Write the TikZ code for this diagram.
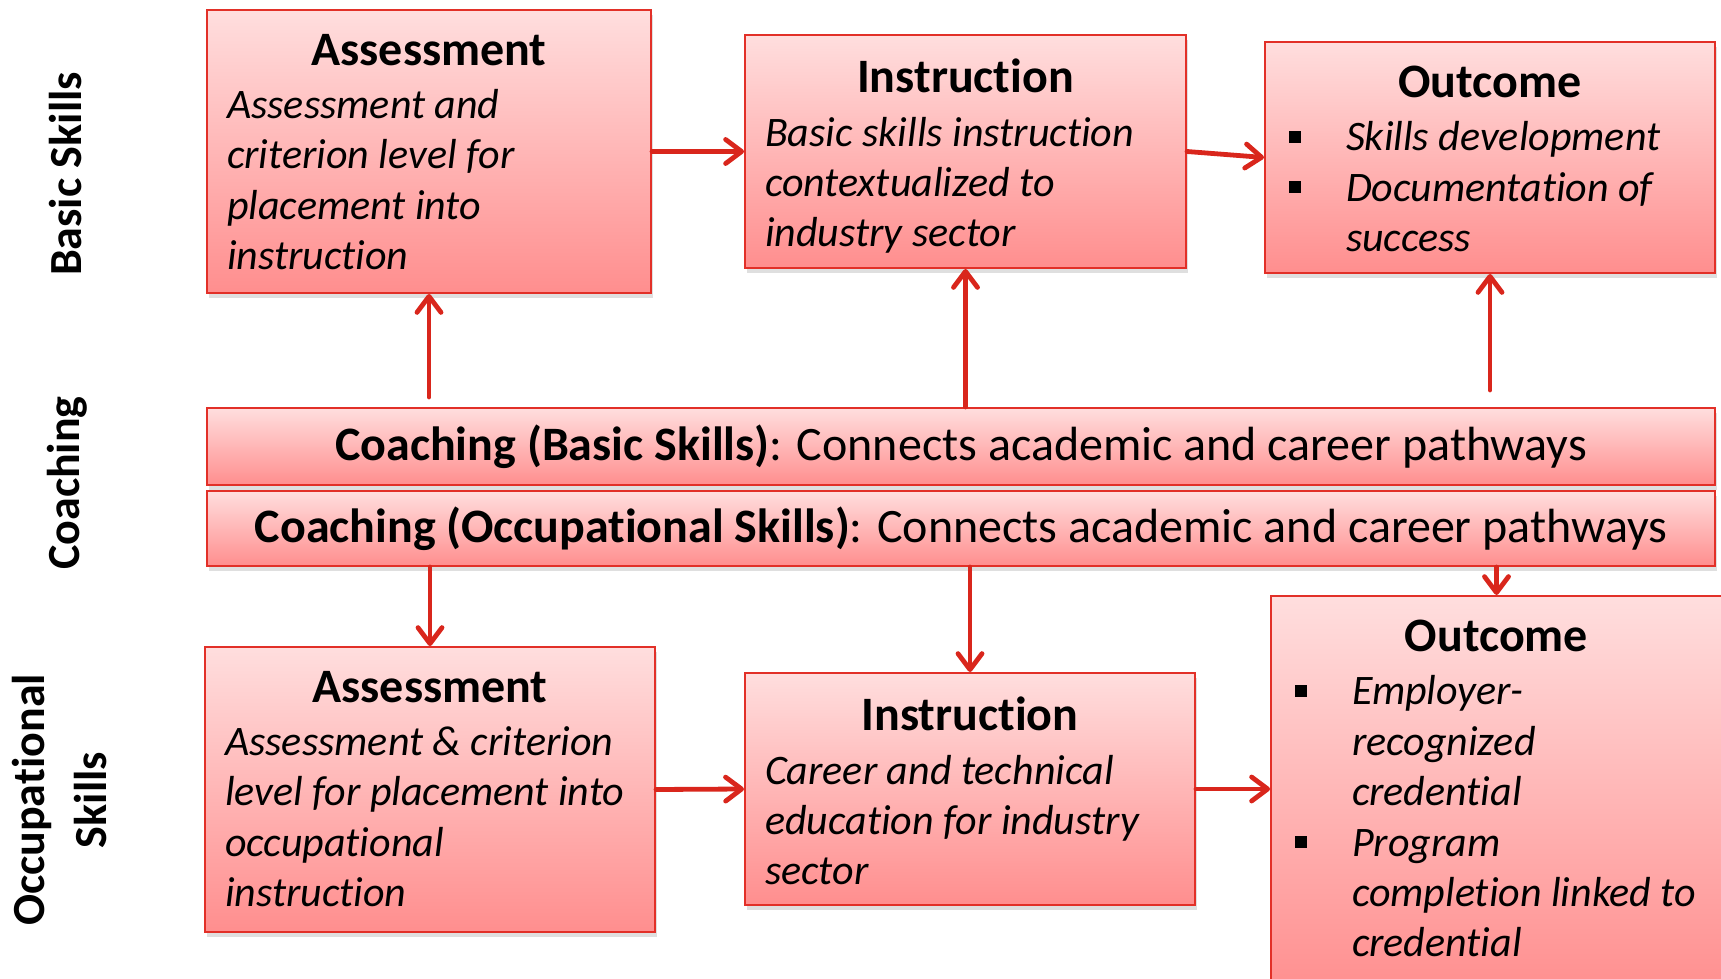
\documentclass[tikz,border=0pt]{standalone}
\usepackage{fontspec}
\setmainfont{Carlito}[Ligatures=NoCommon]
\usetikzlibrary{arrows.meta,shadows,calc}

\definecolor{boxtop}{RGB}{255,222,222}
\definecolor{boxbot}{RGB}{255,142,142}
\definecolor{boxline}{RGB}{226,48,40}
\definecolor{arrowred}{RGB}{217,38,28}

\newcommand{\boxtext}[3]{\parbox[t][#2][t]{#1}{\vspace*{12pt}#3}}
\newcommand{\boxtitle}[1]{{\centering\fontsize{24}{29}\bfseries\selectfont #1\par}\vspace{1.5pt}}
\newcommand{\bodyfont}{\raggedright\fontsize{21}{25.2}\selectfont\itshape}
\newcommand{\outitem}{\par\hangindent=30.5pt\hangafter=1\noindent\makebox[30.5pt][l]{\hspace{2pt}\rule[4pt]{6pt}{6pt}}}

\begin{document}
\begin{tikzpicture}[x=0.5pt,y=-0.5pt,
  box/.style={draw=boxline,line width=1pt,top color=boxtop,bottom color=boxbot,inner xsep=10pt,inner ysep=0pt,anchor=north west,drop shadow={shadow xshift=1pt,shadow yshift=-2.5pt,opacity=0.25}},
  coach/.style={box,minimum width=754pt,inner sep=0pt,font=\fontsize{24}{29}\selectfont},
  side/.style={rotate=90,align=center,font=\fontsize{23}{31}\bfseries\selectfont},
  arr/.style={draw=arrowred,line width=2.4pt,line cap=round,-{Straight Barb[length=8pt,width=12pt,round]}}]

\useasboundingbox (0,0) rectangle (1721,979);

\node[side] (lblBasic) at (66,174) {Basic Skills};
\node[side] (lblCoach) at (67,483) {Coaching};
\node[side] (lblOcc) at (60,800) {Occupational\\Skills};

\node[box] (asmtB) at (206,9) {\boxtext{202pt}{141.5pt}{\boxtitle{Assessment}\bodyfont Assessment and\\criterion level for\\placement into\\instruction}};
\node[box] (instrB) at (744,34) {\boxtext{200.5pt}{116.5pt}{\boxtitle{Instruction}\bodyfont Basic skills instruction\\contextualized to\\industry sector}};
\node[box] (outB) at (1264,41) {\boxtext{205pt}{115.5pt}{\boxtitle{Outcome}\bodyfont\outitem Skills development\outitem Documentation of\newline success}};

\node[coach,minimum height=38.5pt] (coachB) at (206,407) {\textbf{Coaching (Basic Skills)}: Connects academic and career pathways};
\node[coach,minimum height=37.5pt] (coachO) at (206,490) {\textbf{Coaching (Occupational Skills)}: Connects academic and career pathways};

\node[box] (asmtO) at (204,646) {\boxtext{205pt}{142.5pt}{\boxtitle{Assessment}\bodyfont Assessment \& criterion\\level for placement into\\occupational\\instruction}};
\node[box] (instrO) at (744,672) {\boxtext{205pt}{116pt}{\boxtitle{Instruction}\bodyfont Career and technical\\education for industry\\sector}};
\node[box] (outO) at (1270,595) {\boxtext{205.5pt}{200pt}{\boxtitle{Outcome}\bodyfont\outitem Employer-\newline recognized\newline credential\outitem Program\newline completion linked to\newline credential}};

\draw[arr] (asmtB.east) -- (instrB.west);
\draw[arr] (instrB.east) -- (outB.west);
\draw[arr,shorten <=5pt] (coachB.north -| asmtB.south) -- (asmtB.south);
\draw[arr] (coachB.north -| instrB.south) -- (instrB.south);
\draw[arr,shorten <=8.5pt] (coachB.north -| outB.south) -- (outB.south);

\draw[arr] (coachO.south -| asmtO.north) -- (asmtO.north);
\draw[arr] (coachO.south -| instrO.north) -- (instrO.north);
\draw[arr] (coachO.south -| outO.north) -- (outO.north);

\draw[arr] (asmtO.east) -- (instrO.west);
\draw[arr] (instrO.east) -- (instrO.east -| outO.west);
\end{tikzpicture}
\end{document}
